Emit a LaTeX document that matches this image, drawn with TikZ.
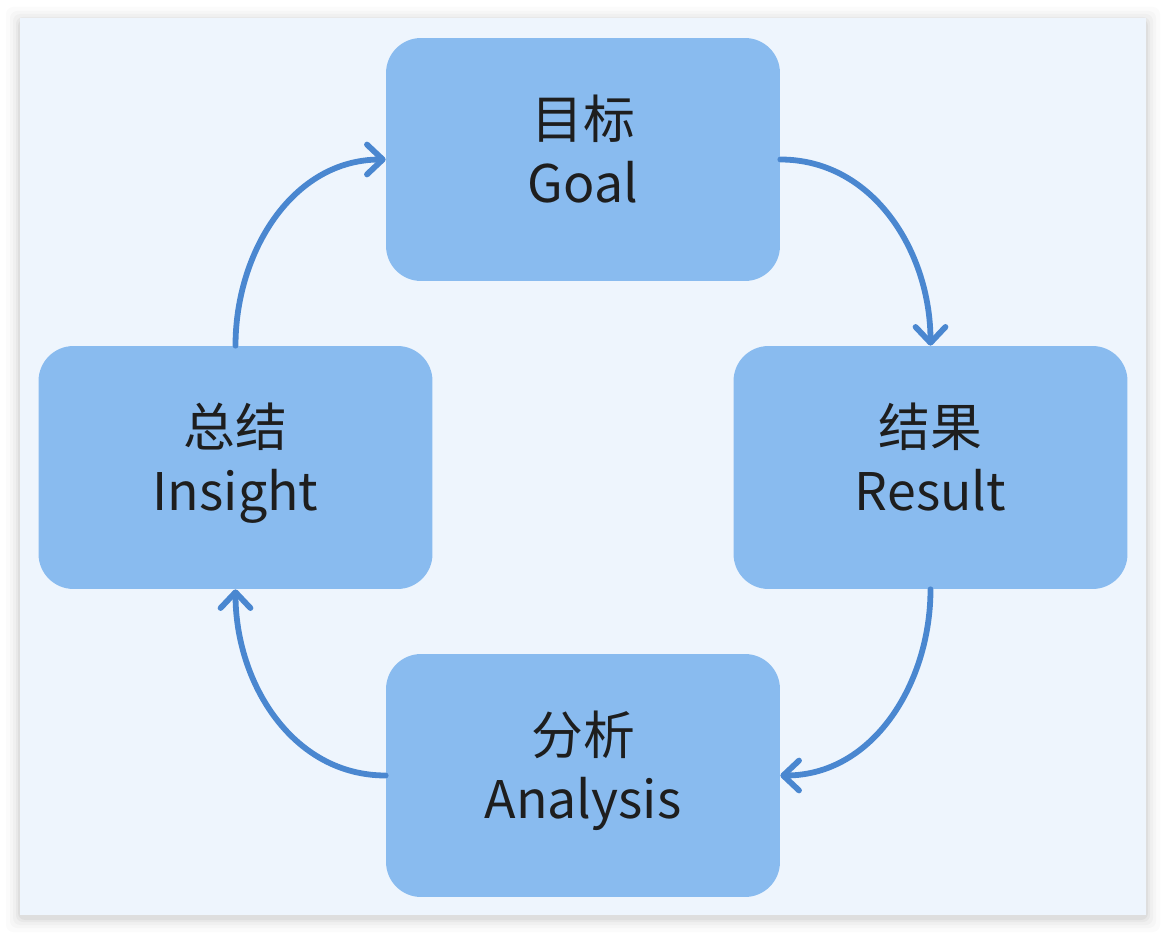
\documentclass[tikz,border=0pt]{standalone}
\usepackage{fontspec}
\setmainfont{Noto Sans CJK SC}
\usetikzlibrary{arrows.meta}
\definecolor{panelbg}{HTML}{EEF5FD}
\definecolor{boxfill}{HTML}{89BBEF}
\definecolor{arrowblue}{HTML}{4A87D0}
\definecolor{txt}{HTML}{1E1E1E}
\tikzset{
  stage/.style={fill=boxfill, rounded corners=0.7cm, minimum width=7.88cm, minimum height=4.86cm,
    align=center, text=txt, font=\fontsize{29.5}{36}\selectfont, inner sep=0pt, text depth=0.43cm},
  flow/.style={draw=arrowblue, line width=3.3pt, line cap=round,
    -{Straight Barb[length=9pt, width=17pt, line width=3.3pt, round]}}
}
\begin{document}
\begin{tikzpicture}[x=0.02cm, y=-0.02cm]
\useasboundingbox (0,0) rectangle (1166,935);
% panel with soft shadow
\foreach \d/\o in {14/0.015, 10/0.02, 7/0.025, 4/0.035, 2/0.045}
  \fill[black, opacity=\o, rounded corners=4pt] (20-\d,18-\d+3) rectangle (1146+\d,915+\d+3);
\fill[panelbg] (20,18) rectangle (1146,915);
% stages
\node[stage] (goal) at (583,159.5) {目标\\Goal};
\node[stage] (result) at (930.5,467.5) {结果\\Result};
\node[stage] (analysis) at (583,775.5) {分析\\Analysis};
\node[stage] (insight) at (235.5,467.5) {总结\\Insight};
% cycle
\draw[flow] (goal.east) to[out=0, in=90] (result.north);
\draw[flow] (result.south) to[out=-90, in=0] (analysis.east);
\draw[flow] (analysis.west) to[out=180, in=-90] (insight.south);
\draw[flow] (insight.north) to[out=90, in=180] (goal.west);
\end{tikzpicture}
\end{document}
